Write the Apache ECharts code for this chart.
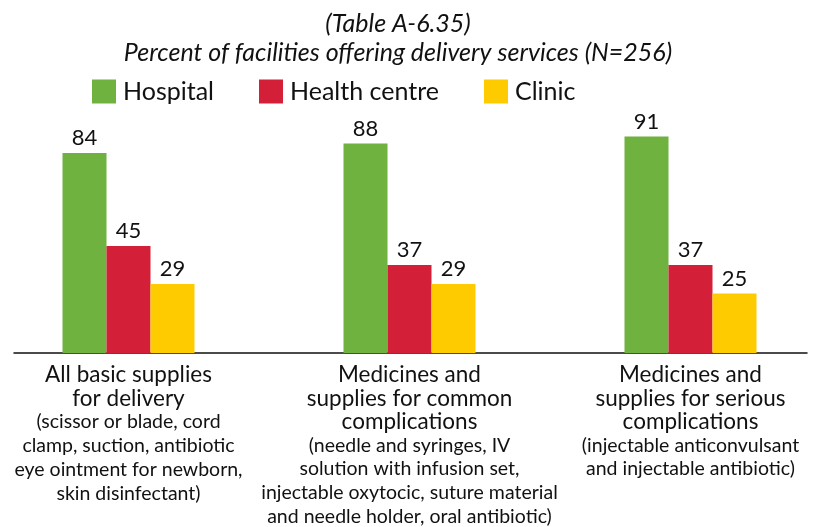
<!DOCTYPE html>
<html>
<head>
<meta charset="utf-8">
<script src="https://cdn.jsdelivr.net/npm/echarts@6/dist/echarts.min.js"></script>
<style>
  html, body { margin: 0; padding: 0; background: #fff; }
  #chart { width: 825px; height: 527px; }
</style>
</head>
<body>
<div id="chart"></div>
<script>
// Delivery supplies by facility type (percent of facilities)
const categories = [
  'All basic supplies\nfor delivery',
  'Medicines and\nsupplies for common\ncomplications',
  'Medicines and\nsupplies for serious\ncomplications'
];
const categoryNotes = [
  '(scissor or blade, cord\nclamp, suction, antibiotic\neye ointment for newborn,\nskin disinfectant)',
  '(needle and syringes, IV\nsolution with infusion set,\ninjectable oxytocic, suture material\nand needle holder, oral antibiotic)',
  '(injectable anticonvulsant\nand injectable antibiotic)'
];
const hospital = [84, 88, 91];
const healthCentre = [45, 37, 37];
const clinic = [29, 29, 25];

const COLORS = {
  hospital: '#6fb23f',
  healthCentre: '#d41f38',
  clinic: '#fecb00',
  text: '#111'
};
const FONT = 'Lato';

function barSeries(name, data, color) {
  return {
    name,
    type: 'bar',
    data,
    barWidth: 44,
    barGap: '0%',
    itemStyle: { color },
    label: {
      show: true,
      position: 'top',
      distance: 4,
      color: COLORS.text,
      fontFamily: FONT,
      fontSize: 22
    }
  };
}

const chart = echarts.init(document.getElementById('chart'));

chart.setOption({
  animation: false,
  backgroundColor: '#fff',
  title: {
    text: '(Table A-6.35)',
    subtext: 'Percent of facilities offering delivery services (N=256)',
    left: 393,
    textAlign: 'center',
    top: 6,
    itemGap: 4,
    textStyle: { fontFamily: FONT, fontStyle: 'italic', fontWeight: 'normal', fontSize: 25, color: COLORS.text },
    subtextStyle: { fontFamily: FONT, fontStyle: 'italic', fontSize: 25, color: COLORS.text }
  },
  legend: {
    left: 92,
    top: 79,
    padding: 0,
    itemWidth: 24,
    itemHeight: 24,
    itemGap: 45,
    icon: 'rect',
    textStyle: { fontFamily: FONT, fontSize: 25, color: COLORS.text, padding: [0, 0, 0, 2] },
    data: ['Hospital', 'Health centre', 'Clinic']
  },
  grid: [
    { left: -12, right: -6, top: 115, bottom: 174, outerBoundsMode: 'none' },
    { left: 14, right: 18, top: 115, bottom: 174, outerBoundsMode: 'none' }
  ],
  xAxis: [
    {
      type: 'category',
      gridIndex: 0,
      data: categories,
      axisLine: { show: false },
      axisTick: { show: false },
      axisLabel: {
        interval: 0,
        margin: 10,
        formatter: (val, idx) => {
          const main = val.split('\n').map(s => `{a|${s}}`).join('\n');
          const note = categoryNotes[idx].split('\n').map(s => `{b|${s}}`).join('\n');
          return main + '\n' + note;
        },
        rich: {
          a: { fontFamily: FONT, fontSize: 22.5, lineHeight: 23.5, color: COLORS.text },
          b: { fontFamily: FONT, fontSize: 19.5, lineHeight: 23.8, color: COLORS.text }
        }
      }
    },
    {
      type: 'category',
      gridIndex: 1,
      data: [''],
      axisLine: { show: true, lineStyle: { color: '#111', width: 1.5 } },
      axisTick: { show: false },
      axisLabel: { show: false }
    }
  ],
  yAxis: [
    { type: 'value', gridIndex: 0, min: 0, max: 100, show: false },
    { type: 'value', gridIndex: 1, min: 0, max: 100, show: false }
  ],
  series: [
    barSeries('Hospital', hospital, COLORS.hospital),
    barSeries('Health centre', healthCentre, COLORS.healthCentre),
    barSeries('Clinic', clinic, COLORS.clinic)
  ]
});
</script>
</body>
</html>
